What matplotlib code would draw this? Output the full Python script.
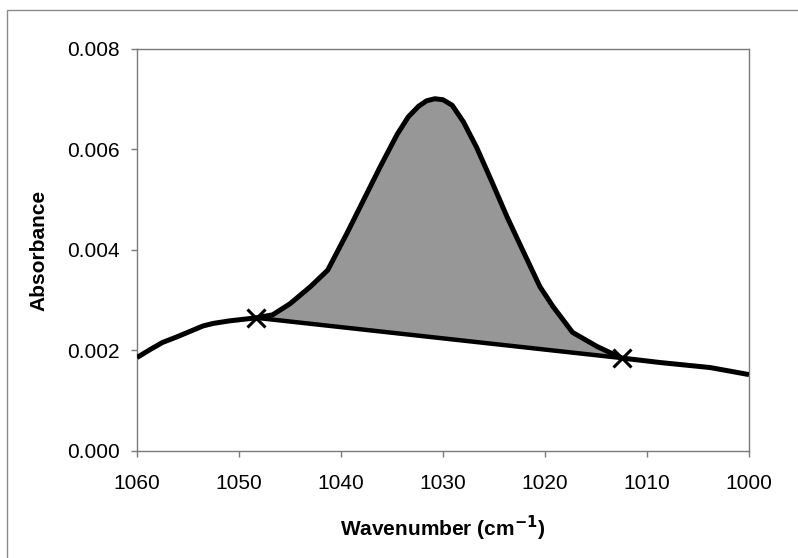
import numpy as np
import matplotlib
matplotlib.use('Agg')
import matplotlib.pyplot as plt
from matplotlib.patches import Rectangle

plt.rcParams['font.family'] = ['Liberation Sans', 'DejaVu Sans']

# spectrum (wavenumber, absorbance)
wavenumber = [1060.0, 1058.7, 1057.5, 1056.1, 1054.8, 1053.5, 1052.5, 1050.9,
              1048.3, 1046.7, 1045.0, 1043.0, 1041.3, 1039.4, 1037.8, 1036.2,
              1034.5, 1033.4, 1032.4, 1031.6, 1030.8, 1030.0, 1029.1, 1028.0,
              1026.7, 1025.3, 1023.7, 1022.2, 1020.5, 1019.2, 1017.3, 1014.9,
              1012.5, 1008.7, 1003.8, 1000.0]
absorbance = [0.00186, 0.00202, 0.00216, 0.00227, 0.00238, 0.00249, 0.00254, 0.00259,
              0.00265, 0.00271, 0.00293, 0.00327, 0.00360, 0.00434, 0.00499, 0.00564,
              0.00630, 0.00665, 0.00686, 0.00697, 0.00701, 0.00699, 0.00688, 0.00655,
              0.00604, 0.00540, 0.00465, 0.00400, 0.00327, 0.00287, 0.00236, 0.00208,
              0.00185, 0.00176, 0.00166, 0.00152]

# integration limits (baseline end points)
limit_x = [1048.3, 1012.5]
limit_y = [0.00265, 0.00185]

xticks = [1060, 1050, 1040, 1030, 1020, 1010, 1000]
yticks = [0.000, 0.002, 0.004, 0.006, 0.008]

fig = plt.figure(figsize=(7.98, 5.58), dpi=100)
ax = fig.add_axes([0.1717, 0.1918, 0.9386 - 0.1717, 0.9122 - 0.1918])

x = np.array(wavenumber)
y = np.array(absorbance)
inside = (x <= limit_x[0]) & (x >= limit_x[1])
base = np.interp(x[inside], limit_x[::-1], limit_y[::-1])
ax.fill_between(x[inside], base, y[inside], color='#979797', lw=0, zorder=1)

ax.plot(x, y, color='black', lw=3.6, solid_joinstyle='round',
        solid_capstyle='butt', zorder=3)
ax.plot(limit_x, limit_y, color='black', lw=3.2, zorder=3)
ax.plot(limit_x, limit_y, 'x', color='black', ms=13, mew=2.2, zorder=4)

ax.set_xlim(1060, 1000)
ax.set_ylim(0, 0.008)
ax.set_xticks(xticks)
ax.set_yticks(yticks)
ax.set_yticklabels([f'{v:.3f}' for v in yticks])

for s in ax.spines.values():
    s.set_color('#7a7a7a')
    s.set_linewidth(1.0)
ax.tick_params(axis='both', direction='out', length=4.5, width=1.0,
               color='#7a7a7a', labelsize=15, labelcolor='black')
ax.tick_params(axis='x', pad=12)
ax.tick_params(axis='y', pad=8)

ax.set_xlabel('Wavenumber (cm$^{\\mathbf{-1}}$)', fontsize=15, fontweight='bold', labelpad=15)
ax.set_ylabel('Absorbance', fontsize=15, fontweight='bold', labelpad=13)

# outer chart border (only left and top visible in the picture)
fig.patches.append(Rectangle((7 / 798, -0.2), 1.3, 1.2 - 10 / 558,
                             transform=fig.transFigure, fill=False,
                             edgecolor='#8a8a8a', lw=1.0))

fig.savefig('out.png', dpi=100)
